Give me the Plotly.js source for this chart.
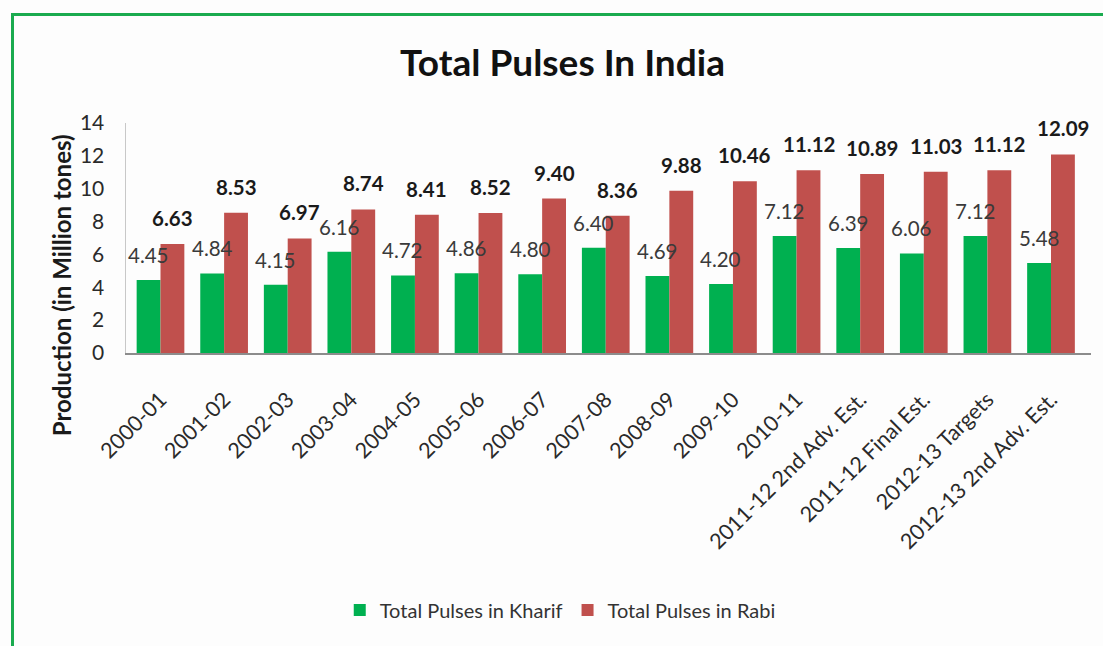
<!DOCTYPE html>
<html>
<head>
<meta charset="utf-8">
<script src="https://cdn.plot.ly/plotly-3.0.1.min.js"></script>
<style>
html,body{margin:0;padding:0;background:#fdfdfd;}
#wrap{position:relative;width:1103px;height:646px;}
#chart{position:absolute;left:0;top:0;width:1103px;height:646px;}
#frame{position:absolute;left:11px;top:13px;width:1092px;height:633px;border-top:3px solid #1aab4f;border-left:3px solid #1aab4f;box-sizing:border-box;pointer-events:none;}
</style>
</head>
<body>
<div id="wrap"><div id="chart"></div><div id="frame"></div></div>
<script>
const categories = ["2000-01","2001-02","2002-03","2003-04","2004-05","2005-06","2006-07","2007-08","2008-09","2009-10","2010-11","2011-12 2nd Adv. Est.","2011-12 Final Est.","2012-13 Targets","2012-13 2nd Adv. Est."];
const kharif = [4.45,4.84,4.15,6.16,4.72,4.86,4.80,6.40,4.69,4.20,7.12,6.39,6.06,7.12,5.48];
const rabi = [6.63,8.53,6.97,8.74,8.41,8.52,9.40,8.36,9.88,10.46,11.12,10.89,11.03,11.12,12.09];
const seriesNames = ["Total Pulses in Kharif","Total Pulses in Rabi"];
const yTicks = [0,2,4,6,8,10,12,14];

const FONT = "Lato, 'Open Sans', sans-serif";

const traces = [
  {type:'bar', name:seriesNames[0], x:categories, y:kharif, marker:{color:'#00b050'}, hoverinfo:'skip'},
  {type:'bar', name:seriesNames[1], x:categories, y:rabi, marker:{color:'#c0504d'}, hoverinfo:'skip'}
];

const annotations = [];
categories.forEach((c,i)=>{
  annotations.push({x:c, y:kharif[i], xref:'x', yref:'y', text:kharif[i].toFixed(2), showarrow:false,
    xshift:-12, yshift:25, yanchor:'middle', font:{family:FONT, size:20.5, color:'#3a3a3a'}});
  annotations.push({x:c, y:rabi[i], xref:'x', yref:'y', text:'<b>'+rabi[i].toFixed(2)+'</b>', showarrow:false,
    xshift:12, yshift:26, yanchor:'middle', font:{family:FONT, size:20.5, color:'#1a1a1a'}});
});
annotations.push({xref:'paper', yref:'paper', x:-0.066, y:0.296, text:'<b>Production (in Million tones)</b>',
  textangle:-90, showarrow:false, xanchor:'center', yanchor:'middle', font:{family:FONT, size:24, color:'#1a1a1a'}});

const layout = {
  width:1103, height:646,
  paper_bgcolor:'#fdfdfd', plot_bgcolor:'#fdfdfd',
  margin:{l:126, r:12, t:123, b:293},
  title:{text:'<b>Total Pulses In India</b>', x:0.51, xref:'container', y:0.902, yref:'container', yanchor:'middle', xanchor:'center',
    font:{family:FONT, size:37, color:'#111111'}},
  barmode:'group', bargap:0.25, bargroupgap:0,
  showlegend:true,
  legend:{orientation:'h', x:0.45, xanchor:'center', y:-1.117, yanchor:'middle', font:{family:FONT, size:20, color:'#333333'},
    itemwidth:30, tracegroupgap:0, bgcolor:'rgba(0,0,0,0)'},
  xaxis:{type:'category', tickangle:-45, tickfont:{family:FONT, size:21.5, color:'#2a2a2a'},
    showline:true, linecolor:'#8c8c8c', linewidth:1.5, ticks:'outside', ticklen:24, tickcolor:'rgba(0,0,0,0)',
    showgrid:false, zeroline:false, fixedrange:true},
  yaxis:{range:[0,14], tickvals:yTicks, ticktext:yTicks.map(String), tickfont:{family:FONT, size:21, color:'#2a2a2a'},
    showline:true, linecolor:'#c8c8c8', linewidth:1.5, ticks:'outside', ticklen:16, tickcolor:'rgba(0,0,0,0)',
    showgrid:false, zeroline:false, fixedrange:true},
  annotations:annotations
};

Plotly.newPlot('chart', traces, layout, {displayModeBar:false, staticPlot:true});
</script>
</body>
</html>
